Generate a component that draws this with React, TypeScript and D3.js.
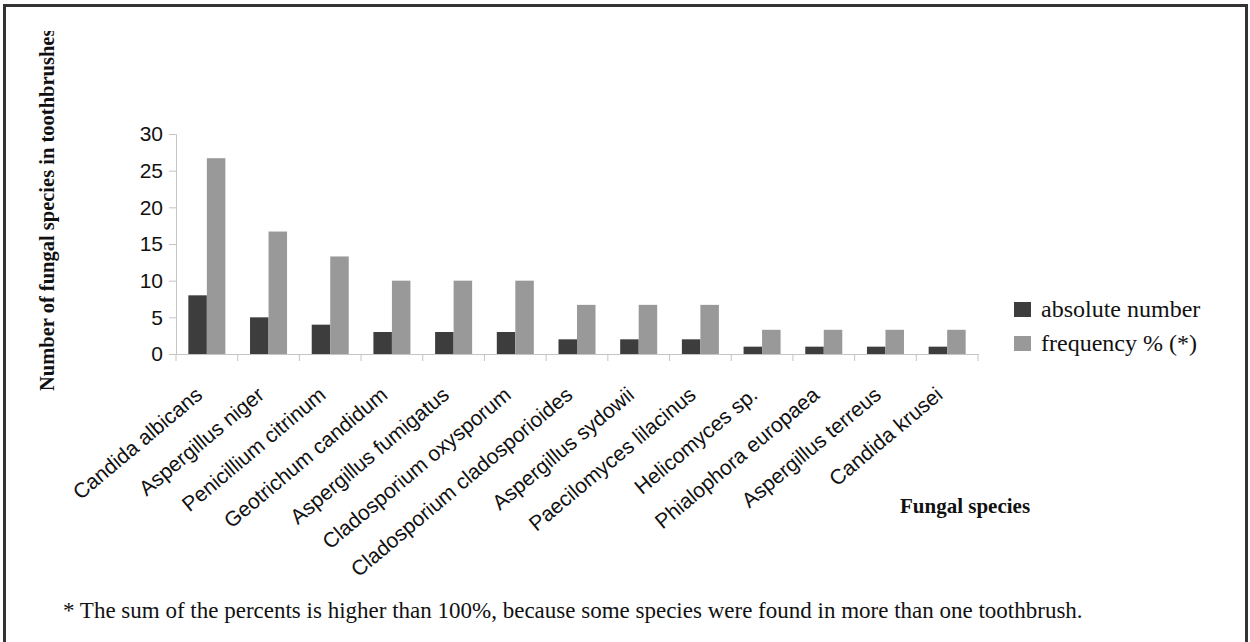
import React, { useRef, useEffect } from 'react';
import * as d3 from 'd3';

const species = [
	'Candida albicans',
	'Aspergillus niger',
	'Penicillium citrinum',
	'Geotrichum candidum',
	'Aspergillus fumigatus',
	'Cladosporium oxysporum',
	'Cladosporium cladosporioides',
	'Aspergillus sydowii',
	'Paecilomyces lilacinus',
	'Helicomyces sp.',
	'Phialophora europaea',
	'Aspergillus terreus',
	'Candida krusei',
];

const absoluteNumber = [8, 5, 4, 3, 3, 3, 2, 2, 2, 1, 1, 1, 1];
const frequency = [26.7, 16.7, 13.3, 10, 10, 10, 6.7, 6.7, 6.7, 3.3, 3.3, 3.3, 3.3];

const seriesNames = ['absolute number', 'frequency % (*)'];
const seriesColors = ['#3d3d3d', '#999999'];
const yTicks = [0, 5, 10, 15, 20, 25, 30];

const yTitle = 'Number of fungal species in toothbrushes';
const xTitle = 'Fungal species';
const footnote = '* The sum of the percents is higher than 100%, because some species were found in more than one toothbrush.';

const W = 1250;
const H = 642;
const margin = { top: 134, left: 176, right: 272, bottom: 288 };

const App: React.FC = () => {
	const ref = useRef<SVGSVGElement | null>(null);

	useEffect(() => {
		if (!ref.current) return;
		const svg = d3.select(ref.current);
		svg.selectAll('*').remove();

		// frame round the figure
		svg.append('rect')
			.attr('x', 4.5).attr('y', 5.5)
			.attr('width', W - 8).attr('height', H + 10)
			.attr('fill', 'white')
			.attr('stroke', '#333').attr('stroke-width', 3);

		const x = d3.scaleBand<string>()
			.domain(species)
			.range([margin.left, W - margin.right]);
		const y = d3.scaleLinear()
			.domain([0, 30])
			.range([H - margin.bottom, margin.top]);
		const x1 = d3.scaleBand<string>()
			.domain(seriesNames)
			.range([x.bandwidth() * 0.2, x.bandwidth() * 0.8]);

		const rows = species.map((s, i) => ({ s, vals: [absoluteNumber[i], frequency[i]] }));

		// bars
		const g = svg.append('g');
		rows.forEach(r => {
			r.vals.forEach((v, j) => {
				g.append('rect')
					.attr('x', (x(r.s) as number) + (x1(seriesNames[j]) as number))
					.attr('y', y(v))
					.attr('width', x1.bandwidth())
					.attr('height', y(0) - y(v))
					.attr('fill', seriesColors[j]);
			});
		});

		// y axis
		const yAxis = svg.append('g')
			.attr('transform', `translate(${margin.left},0)`)
			.call(d3.axisLeft(y).tickValues(yTicks).tickSize(7).tickPadding(6));
		yAxis.selectAll('path, line').attr('stroke', '#c4c4c4');
		yAxis.selectAll('text')
			.style('font-family', '"Liberation Sans", Arial, sans-serif')
			.style('font-size', '21px')
			.attr('fill', '#111');

		// x axis, ticks between categories
		const xAxis = svg.append('g')
			.attr('transform', `translate(0,${y(0)})`)
			.call(d3.axisBottom(x).tickSize(0).tickFormat(() => ''));
		xAxis.select('path').attr('stroke', '#c4c4c4');
		const bounds = species.map(s => x(s) as number).concat([x.range()[1]]);
		xAxis.selectAll('line.bound')
			.data(bounds)
			.enter().append('line')
			.attr('class', 'bound')
			.attr('x1', d => d).attr('x2', d => d)
			.attr('y1', 0).attr('y2', 7)
			.attr('stroke', '#c4c4c4');

		svg.append('g').selectAll('text')
			.data(species)
			.enter().append('text')
			.attr('transform', d => `translate(${(x(d) as number) + x.bandwidth() / 2 - 3},${y(0) + 43}) rotate(-40)`)
			.attr('text-anchor', 'end')
			.style('font-family', '"Liberation Sans", Arial, sans-serif')
			.style('font-size', '21px')
			.attr('fill', '#111')
			.text(d => d);

		// y title, cut at the top like the original
		svg.append('clipPath').attr('id', 'ytclip')
			.append('rect').attr('x', 0).attr('y', 31).attr('width', 120).attr('height', 500);
		svg.append('g')
			.attr('clip-path', 'url(#ytclip)')
			.append('text')
			.attr('transform', 'translate(54,391) rotate(-90)')
			.style('font-family', '"Liberation Serif", "Times New Roman", serif')
			.style('font-size', '20.5px')
			.style('font-weight', 'bold')
			.attr('fill', '#111')
			.text(yTitle);

		// x title
		svg.append('text')
			.attr('x', 900).attr('y', 513)
			.style('font-family', '"Liberation Serif", "Times New Roman", serif')
			.style('font-size', '21px')
			.style('font-weight', 'bold')
			.attr('fill', '#111')
			.text(xTitle);

		// legend
		const legend = svg.append('g').attr('transform', 'translate(1014,309)');
		seriesNames.forEach((n, i) => {
			legend.append('rect')
				.attr('x', 0).attr('y', i * 34 - 7)
				.attr('width', 17).attr('height', 15)
				.attr('fill', seriesColors[i]);
			legend.append('text')
				.attr('x', 27).attr('y', i * 34 + 8)
				.style('font-family', '"Liberation Serif", "Times New Roman", serif')
				.style('font-size', '24px')
				.attr('fill', '#111')
				.text(n);
		});

		// footnote
		svg.append('text')
			.attr('x', 63).attr('y', 618)
			.style('font-family', '"Liberation Serif", "Times New Roman", serif')
			.style('font-size', '23px')
			.attr('fill', '#111')
			.text(footnote);
	}, []);

	return (
		<svg ref={ref} width={W} height={H}
			style={{ position: 'absolute', left: 0, top: 0, background: 'white' }} />
	);
};

export default App;
